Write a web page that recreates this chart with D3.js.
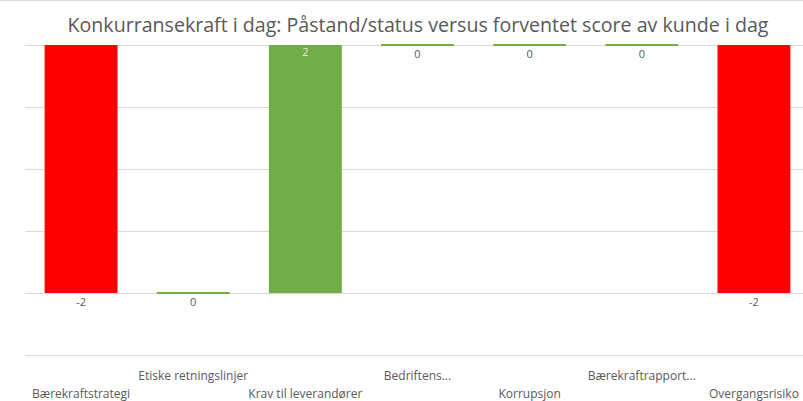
<!DOCTYPE html>
<html>
<head>
<meta charset="utf-8">
<script src="https://cdn.jsdelivr.net/npm/d3@7"></script>
<style>
  html, body { margin: 0; padding: 0; background: #fff; }
  svg { display: block; }
</style>
</head>
<body>
<div id="chart"></div>
<script>
// Konkurransekraft i dag - bar chart

// === DATA ===
const chartTitle = 'Konkurransekraft i dag: Påstand/status versus forventet score av kunde i dag';
const categories = ['Bærekraftstrategi', 'Etiske retningslinjer', 'Krav til leverandører', 'Bedriftens...', 'Korrupsjon', 'Bærekraftrapport...', 'Overgangsrisiko'];
const scores = [-2, 0, 2, 0, 0, 0, -2];            // value labels shown on the bars
const barLow = [0, 0, 0, 2, 2, 2, 0];              // bar start, axis units
const barHigh = [2, 0, 2, 2, 2, 2, 2];             // bar end, axis units
const gridTicks = [-0.5, 0, 0.5, 1, 1.5, 2];

const width = 803;
const height = 401;
const margin = { top: 45, right: -7, bottom: 46, left: 25 };

const svg = d3.select('#chart')
    .append('svg')
    .attr('width', width)
    .attr('height', height);

const x = d3.scaleBand()
    .domain(categories)
    .range([margin.left, width - margin.right])
    .paddingInner(0.35)
    .paddingOuter(0.175);

const y = d3.scaleLinear()
    .domain([-0.5, 2])
    .range([height - margin.bottom, margin.top]);

// top border
svg.append('line')
    .attr('x1', 0).attr('x2', width)
    .attr('y1', 0.5).attr('y2', 0.5)
    .attr('stroke', '#d9d9d9');

// gridlines
svg.append('g')
    .selectAll('line')
    .data(gridTicks)
    .enter()
    .append('line')
    .attr('x1', margin.left)
    .attr('x2', width)
    .attr('y1', d => Math.round(y(d)) + 0.5)
    .attr('y2', d => Math.round(y(d)) + 0.5)
    .attr('stroke', '#d9d9d9')
    .attr('stroke-width', 1);

const data = categories.map((c, i) => ({ cat: c, score: scores[i], lo: barLow[i], hi: barHigh[i], i: i }));

// bars
svg.append('g')
    .selectAll('rect')
    .data(data)
    .enter()
    .append('rect')
    .attr('x', d => x(d.cat))
    .attr('width', x.bandwidth())
    .attr('y', d => d.hi === d.lo ? y(d.hi) - 1 : y(d.hi))
    .attr('height', d => d.hi === d.lo ? 2 : y(d.lo) - y(d.hi))
    .attr('fill', d => d.score < 0 ? '#ff0000' : '#70ad47');

// value labels
svg.append('g')
    .selectAll('text')
    .data(data)
    .enter()
    .append('text')
    .attr('x', d => x(d.cat) + x.bandwidth() / 2)
    .attr('y', d => d.score > 0 ? y(d.hi) + 11 : y(d.lo) + 13)
    .attr('text-anchor', 'middle')
    .attr('font-family', 'Open Sans, sans-serif')
    .attr('font-size', '11px')
    .attr('fill', d => d.score > 0 ? '#e2efda' : '#595959')
    .text(d => d.score);

// category labels, staggered in two rows
svg.append('g')
    .selectAll('text')
    .data(data)
    .enter()
    .append('text')
    .attr('x', d => x(d.cat) + x.bandwidth() / 2)
    .attr('y', d => d.i % 2 === 1 ? 380 : 398)
    .attr('text-anchor', 'middle')
    .attr('font-family', 'Open Sans, sans-serif')
    .attr('font-size', '12px')
    .attr('fill', '#595959')
    .text(d => d.cat);

// title
svg.append('text')
    .attr('x', 418)
    .attr('y', 32)
    .attr('text-anchor', 'middle')
    .attr('font-family', 'Open Sans, sans-serif')
    .attr('font-size', '19.6px')
    .attr('fill', '#595959')
    .text(chartTitle);
</script>
</body>
</html>
